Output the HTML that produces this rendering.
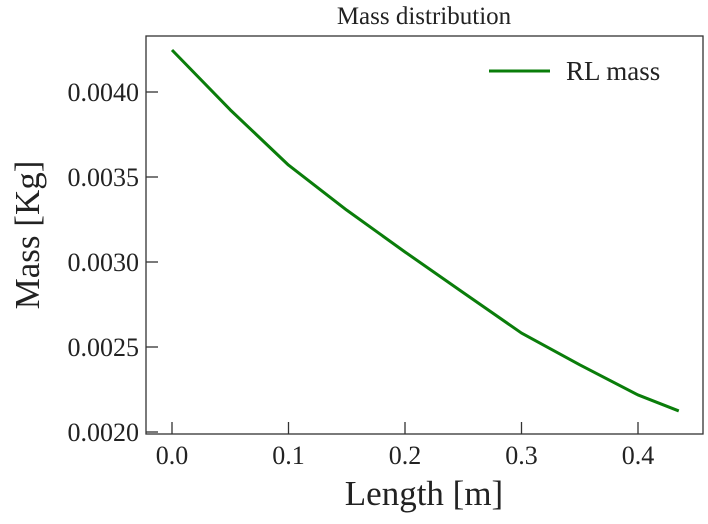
<!DOCTYPE html>
<html><head><meta charset="utf-8"><style>
body{margin:0;background:#fff;}
svg text{font-family:"Liberation Serif",serif;fill:#222;}
</style></head><body>
<svg width="708" height="519">
<g id="g"></g>
</svg>
<script>
const xs=[0,0.05,0.1,0.15,0.2,0.25,0.3,0.35,0.4,0.435];
const ys=[0.004247,0.003895,0.00357,0.003305,0.003059,0.00282,0.002582,0.002395,0.002218,0.002124];
const xTicks=[0,0.1,0.2,0.3,0.4];
const xTickLabels=["0.0","0.1","0.2","0.3","0.4"];
const yTicks=[0.002,0.0025,0.003,0.0035,0.004];
const yTickLabels=["0.0020","0.0025","0.0030","0.0035","0.0040"];
const L=146,R=703,T=36,B=434;
const X=v=>172+v*1165;
const Y=v=>432-(v-0.002)/0.0005*85;
const g=document.getElementById('g');
const NS='http://www.w3.org/2000/svg';
function mk(t,a){const e=document.createElementNS(NS,t);for(const k in a)e.setAttribute(k,a[k]);g.appendChild(e);return e;}
let f=mk('rect',{x:L,y:T,width:R-L,height:B-T,fill:'none',stroke:'#333','stroke-width':1.3});


xTicks.forEach((v,i)=>{
 let t=mk('line',{x1:X(v),x2:X(v),y1:B,y2:B-12,stroke:'#333','stroke-width':1.3});
 
 
 let l=mk('text',{x:X(v),y:464,'text-anchor':'middle','font-size':26});
 l.textContent=xTickLabels[i];
 
 
});
yTicks.forEach((v,i)=>{
 let t=mk('line',{x1:L,x2:L+12,y1:Y(v),y2:Y(v),stroke:'#333','stroke-width':1.3});
 
 
 let l=mk('text',{x:139,y:Y(v)+9,'text-anchor':'end','font-size':26});
 l.textContent=yTickLabels[i];
 
 
});
let p=mk('polyline',{points:xs.map((x,i)=>X(x)+','+Y(ys[i])).join(' '),fill:'none',stroke:'#0a7d0a','stroke-width':3,'stroke-linejoin':'round'});


let ll=mk('line',{x1:489,x2:550,y1:71,y2:71,stroke:'#0a7d0a','stroke-width':3});


let lt=mk('text',{x:566,y:80,'font-size':27});
lt.textContent='RL mass';


let ti=mk('text',{x:424,y:24,'text-anchor':'middle','font-size':25});
ti.textContent='Mass distribution';


let xt=mk('text',{x:424,y:505,'text-anchor':'middle','font-size':35});
xt.textContent='Length [m]';


let yt=mk('text',{x:0,y:0,'text-anchor':'middle','font-size':35,transform:'translate(39,235) rotate(-90)'});
yt.textContent='Mass [Kg]';


</script>
</body></html>
